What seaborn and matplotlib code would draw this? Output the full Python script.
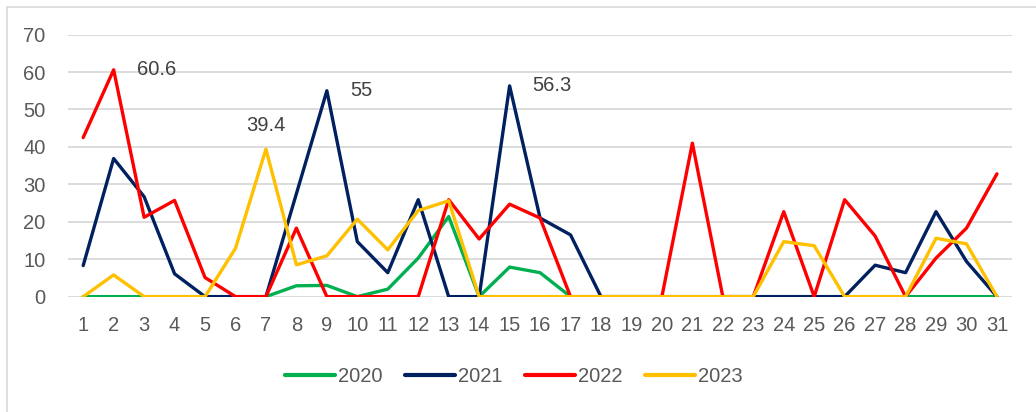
import pandas as pd
import matplotlib.pyplot as plt
import matplotlib.patches as mpatches
import seaborn as sns

# ==========================================
# Data
# ==========================================
days = list(range(1, 32))

y2020 = [0, 0, 0, 0, 0, 0, 0, 2.9, 3, 0, 2, 10.3, 21.4, 0, 7.9, 6.4, 0,
         0, 0, 0, 0, 0, 0, 0, 0, 0, 0, 0, 0, 0, 0]
y2021 = [8.3, 36.9, 26.7, 6.1, 0, 0, 0, 27.5, 55, 14.7, 6.4, 25.9, 0, 0, 56.3, 21, 16.5,
         0, 0, 0, 0, 0, 0, 0, 0, 0, 8.4, 6.4, 22.7, 9.4, 0]
y2022 = [42.5, 60.6, 21.2, 25.7, 5.1, 0, 0, 18.3, 0, 0, 0, 0, 25.9, 15.4, 24.7, 21, 0,
         0, 0, 0, 41, 0, 0, 22.7, 0, 25.9, 16.2, 0, 10.3, 18.3, 32.8]
y2023 = [0, 5.8, 0, 0, 0, 12.9, 39.4, 8.5, 10.9, 20.7, 12.5, 23, 25.6, 0, 0, 0, 0,
         0, 0, 0, 0, 0, 0, 14.7, 13.6, 0, 0, 0, 15.6, 14.1, 0]

years = ["2020", "2021", "2022", "2023"]
colors = ["#00B050", "#002060", "#FF0000", "#FFC000"]

# peak labels: day, value, text
peak_days = [2, 7, 9, 15]
peak_vals = [60.6, 39.4, 55, 56.3]
peak_text = ["60.6", "39.4", "55", "56.3"]

# ==========================================
# Long-form table for seaborn
# ==========================================
frames = []
for yr, vals in zip(years, [y2020, y2021, y2022, y2023]):
    frames.append(pd.DataFrame({"day": days, "value": vals, "year": yr}))
df = pd.concat(frames, ignore_index=True)

# ==========================================
# Plot
# ==========================================
sns.set_style("white")
plt.rcParams['font.family'] = ['Liberation Sans', 'DejaVu Sans']

fig = plt.figure(figsize=(10.36, 4.12), dpi=100)
ax = fig.add_axes([0.0656, 0.280, 0.9114, 0.636])

sns.lineplot(data=df, x="day", y="value", hue="year", palette=colors,
             linewidth=2.4, ax=ax)

ax.set_xlim(0.5, 31.5)
ax.set_ylim(0, 70)
ax.set_xticks(days)
ax.set_yticks(range(0, 71, 10))
ax.set_xlabel("")
ax.set_ylabel("")
ax.grid(axis="y", color="#D9D9D9", linewidth=1.3)
ax.set_axisbelow(True)
for s in ax.spines.values():
    s.set_visible(False)
ax.tick_params(axis="both", length=0, labelsize=14.5, colors="#595959")
ax.tick_params(axis="x", pad=14)
ax.tick_params(axis="y", pad=16)

# peak labels (the 2023 one sits above its point, the others to the right)
for d, v, t in zip(peak_days, peak_vals, peak_text):
    if t == "39.4":
        ax.annotate(t, xy=(d, v), xytext=(0, 17), textcoords="offset points",
                    ha="center", va="center", fontsize=14.5, color="#404040")
    else:
        ax.annotate(t, xy=(d, v), xytext=(16.5, 0), textcoords="offset points",
                    ha="left", va="center", fontsize=14.5, color="#404040")

# legend
handles, labels = ax.get_legend_handles_labels()
ax.legend_.remove()
for h in handles:
    h.set_linewidth(3)
fig.legend(handles, labels, loc="center", bbox_to_anchor=(0.496, 0.085), ncol=4,
           frameon=False, fontsize=14.5, handlelength=2.5, handletextpad=0.15,
           columnspacing=1.1, labelcolor="#595959")

# outer chart border (runs off the right and bottom edges)
fig.patches.append(mpatches.Rectangle((0.0068, -0.2), 1.2, 1.184, transform=fig.transFigure,
                                      fill=False, edgecolor="#D9D9D9", linewidth=1.2))

plt.savefig("out.png", dpi=100)
plt.close()
